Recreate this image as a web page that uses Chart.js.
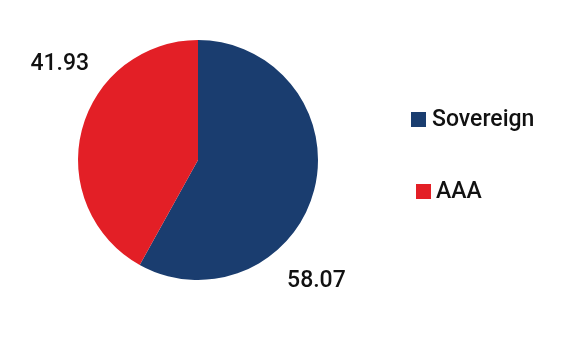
<!DOCTYPE html>
<html>
<head>
<meta charset="utf-8">
<script src="https://cdn.jsdelivr.net/npm/chart.js@4"></script>
<style>
html,body{margin:0;padding:0;background:#fff;}
#wrap{width:563px;height:340px;position:relative;}
</style>
</head>
<body>
<div id="wrap"><canvas id="c" width="563" height="340"></canvas></div>
<script>
const categories = ["Sovereign", "AAA"];
const values = [58.07, 41.93];
const valueLabels = ["58.07", "41.93"];
const colors = ["#1a3d6f", "#e31f26"];

// style: label angle offset from slice mid-angle (degrees), and distance beyond radius
const labelAngleOffsets = [31, 20.6];
const labelGap = 49;
const FONT = '500 23px Roboto';

const labelPlugin = {
  id: 'outerLabels',
  afterDatasetsDraw(chart) {
    const ctx = chart.ctx;
    const meta = chart.getDatasetMeta(0);
    ctx.save();
    ctx.font = FONT;
    ctx.fillStyle = '#111';
    ctx.textAlign = 'center';
    ctx.textBaseline = 'middle';
    meta.data.forEach((arc, i) => {
      const p = arc.getProps(['x','y','startAngle','endAngle','outerRadius'], true);
      const mid = (p.startAngle + p.endAngle) / 2 + labelAngleOffsets[i] * Math.PI / 180;
      const r = p.outerRadius + labelGap;
      ctx.fillText(valueLabels[i], p.x + Math.cos(mid) * r, p.y + Math.sin(mid) * r + 1);
    });
    ctx.restore();
  }
};

const legendPlugin = {
  id: 'customLegend',
  afterDraw(chart) {
    const ctx = chart.ctx;
    ctx.save();
    ctx.font = FONT;
    ctx.textBaseline = 'middle';
    const items = [
      {box: 411, text: 432, y: 119},
      {box: 416, text: 436, y: 191}
    ];
    categories.forEach((c, i) => {
      const it = items[i];
      ctx.fillStyle = colors[i];
      ctx.fillRect(it.box, it.y - 7, 15, 15);
      ctx.fillStyle = '#111';
      ctx.fillText(c, it.text, it.y + 1);
    });
    ctx.restore();
  }
};

new Chart(document.getElementById('c'), {
  type: 'pie',
  data: {
    labels: categories,
    datasets: [{
      data: values,
      backgroundColor: colors,
      borderWidth: 0
    }]
  },
  options: {
    responsive: false,
    animation: false,
    layout: {padding: {left: 78, right: 245, top: 40, bottom: 60}},
    plugins: {legend: {display: false}, tooltip: {enabled: false}}
  },
  plugins: [labelPlugin, legendPlugin]
});
</script>
</body>
</html>
